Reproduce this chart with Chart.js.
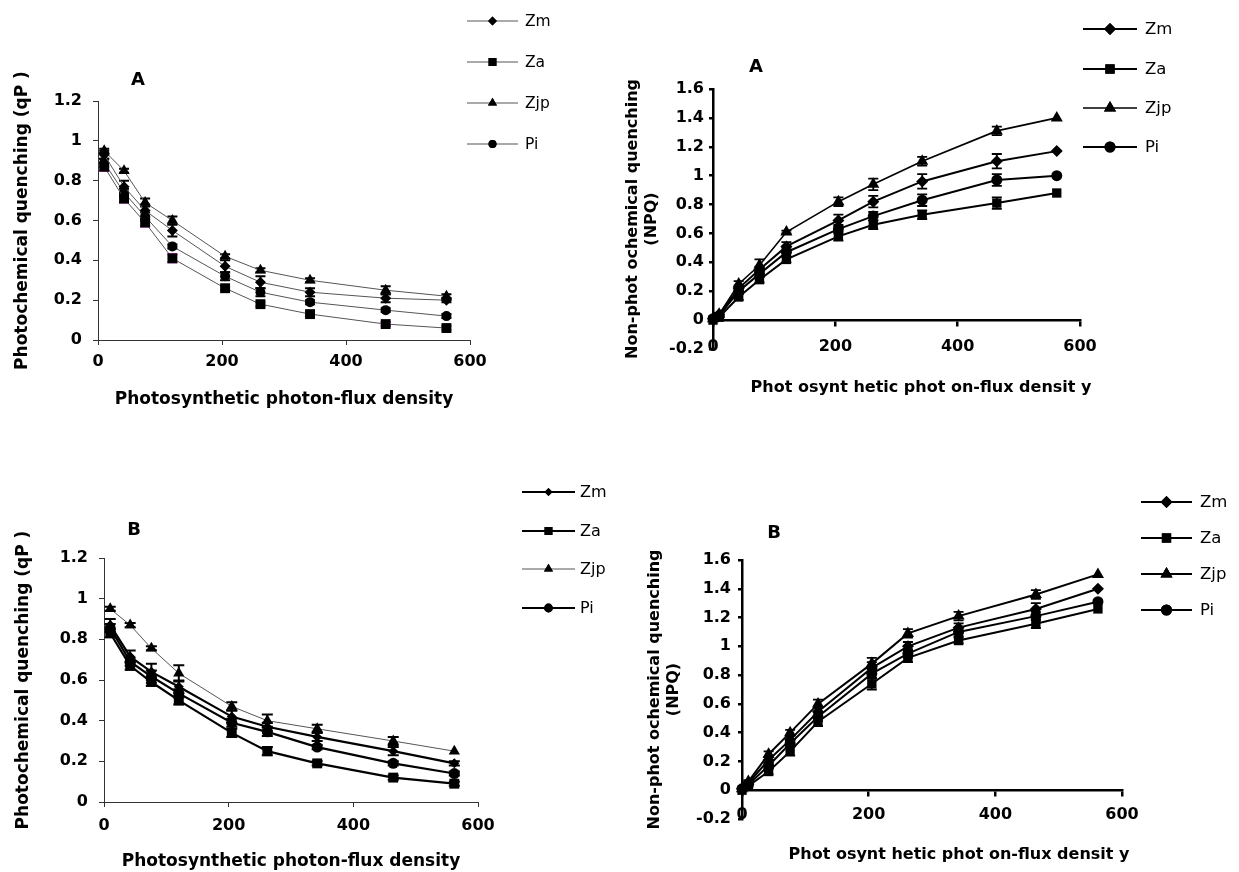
<!DOCTYPE html>
<html>
<head>
<meta charset="utf-8">
<title>qP and NPQ response curves</title>
<script src="https://cdn.jsdelivr.net/npm/chart.js"></script>
<style>
  html, body { margin: 0; padding: 0; background: #fff; }
  body { width: 1239px; height: 872px; position: relative; overflow: hidden; }
  canvas { position: absolute; }
</style>
</head>
<body>
<canvas id="qpChartA" width="560" height="436" style="left:0;top:0"></canvas>
<canvas id="npqChartA" width="679" height="436" style="left:560px;top:0"></canvas>
<canvas id="qpChartB" width="620" height="436" style="left:0;top:436px"></canvas>
<canvas id="npqChartB" width="619" height="436" style="left:620px;top:436px"></canvas>
<script>
// ---- data ----
const speciesNames = ["Zm", "Za", "Zjp", "Pi"];
const ppfdQP = [10, 42, 76, 120, 205, 262, 342, 464, 562];
const ppfdNPQ = [0, 10, 42, 76, 120, 205, 262, 342, 464, 562];
const xTickValues = [0, 200, 400, 600];
const qpTickValues = [0, 0.2, 0.4, 0.6, 0.8, 1, 1.2];
const npqTickValues = [-0.2, 0, 0.2, 0.4, 0.6, 0.8, 1, 1.2, 1.4, 1.6];

// panel A, photochemical quenching (qP)
const qpA_Zm  = [0.93, 0.77, 0.65, 0.55, 0.37, 0.29, 0.24, 0.21, 0.20];
const qpA_Za  = [0.87, 0.71, 0.59, 0.41, 0.26, 0.18, 0.13, 0.08, 0.06];
const qpA_Zjp = [0.95, 0.85, 0.69, 0.60, 0.42, 0.35, 0.30, 0.25, 0.22];
const qpA_Pi  = [0.89, 0.74, 0.62, 0.47, 0.32, 0.24, 0.19, 0.15, 0.12];
const qpA_errZm  = [0.02, 0.03, 0.03, 0.03, 0.03, 0.03, 0.02, 0.02, 0.01];
const qpA_errZa  = [0.02, 0.02, 0.02, 0.02, 0.01, 0.01, 0.01, 0.01, 0.01];
const qpA_errZjp = [0.01, 0.01, 0.02, 0.02, 0.01, 0.01, 0.01, 0.02, 0.01];
const qpA_errPi  = [0.02, 0.02, 0.02, 0.01, 0.02, 0.02, 0.01, 0.01, 0.01];

// panel A, non-photochemical quenching (NPQ)
const npqA_Zm  = [0.01, 0.04, 0.22, 0.35, 0.51, 0.69, 0.82, 0.96, 1.10, 1.17];
const npqA_Za  = [0.00, 0.02, 0.16, 0.28, 0.42, 0.58, 0.66, 0.73, 0.81, 0.88];
const npqA_Zjp = [0.01, 0.04, 0.25, 0.38, 0.61, 0.82, 0.94, 1.10, 1.31, 1.40];
const npqA_Pi  = [0.01, 0.03, 0.20, 0.32, 0.47, 0.63, 0.72, 0.83, 0.97, 1.00];
const npqA_errZm  = [0, 0.01, 0.02, 0.02, 0.03, 0.04, 0.04, 0.05, 0.05, 0];
const npqA_errZa  = [0, 0.01, 0.02, 0.02, 0.02, 0.03, 0.03, 0.03, 0.04, 0];
const npqA_errZjp = [0, 0.01, 0.02, 0.04, 0.01, 0.03, 0.04, 0.03, 0.03, 0];
const npqA_errPi  = [0, 0.01, 0.02, 0.02, 0.03, 0.03, 0.03, 0.04, 0.04, 0];

// panel B, photochemical quenching (qP)
const qpB_Zm  = [0.87, 0.715, 0.64, 0.567, 0.42, 0.37, 0.32, 0.25, 0.19];
const qpB_Za  = [0.83, 0.67, 0.59, 0.50, 0.34, 0.25, 0.19, 0.12, 0.09];
const qpB_Zjp = [0.95, 0.87, 0.756, 0.633, 0.47, 0.40, 0.36, 0.30, 0.25];
const qpB_Pi  = [0.855, 0.69, 0.617, 0.534, 0.39, 0.345, 0.27, 0.19, 0.14];
const qpB_errZm  = [0.03, 0.03, 0.04, 0.03, 0.03, 0.02, 0.02, 0.02, 0.01];
const qpB_errZa  = [0.02, 0.02, 0.02, 0.02, 0.02, 0.02, 0.01, 0.01, 0.01];
const qpB_errZjp = [0.01, 0.01, 0.01, 0.04, 0.02, 0.03, 0.02, 0.02, 0];
const qpB_errPi  = [0.02, 0.02, 0.03, 0.02, 0.02, 0.02, 0.01, 0.01, 0.01];

// panel B, non-photochemical quenching (NPQ)
const npqB_Zm  = [0.01, 0.05, 0.21, 0.35, 0.545, 0.85, 1.00, 1.13, 1.26, 1.40];
const npqB_Za  = [0.00, 0.03, 0.13, 0.27, 0.476, 0.74, 0.92, 1.04, 1.157, 1.26];
const npqB_Zjp = [0.01, 0.06, 0.25, 0.40, 0.60, 0.88, 1.09, 1.21, 1.36, 1.50];
const npqB_Pi  = [0.01, 0.04, 0.17, 0.325, 0.51, 0.81, 0.95, 1.10, 1.21, 1.31];
const npqB_errZm  = [0, 0.01, 0.02, 0.03, 0.03, 0.04, 0.03, 0.03, 0.04, 0];
const npqB_errZa  = [0, 0.01, 0.02, 0.03, 0.03, 0.04, 0.03, 0.02, 0.03, 0];
const npqB_errZjp = [0, 0.01, 0.02, 0.02, 0.03, 0.04, 0.03, 0.03, 0.03, 0];
const npqB_errPi  = [0, 0.01, 0.02, 0.02, 0.03, 0.03, 0.03, 0.03, 0.03, 0.01];

const pointStyles = ["rectRot", "rect", "triangle", "circle"];

// error bars drawn under the lines, from the chart's own scales
const errorBarPlugin = {
  id: "errorBars",
  beforeDatasetsDraw(chart, args, opts) {
    const { ctx, scales: { x, y } } = chart;
    const hw = (opts.cap || 8) / 2;
    ctx.save();
    ctx.lineWidth = opts.width || 1.5;
    chart.data.datasets.forEach(ds => {
      if (!ds.errors) return;
      ctx.strokeStyle = ds.errorColor || "#000";
      ds.data.forEach((p, j) => {
        const e = ds.errors[j];
        if (!e) return;
        const px = x.getPixelForValue(p.x);
        const top = y.getPixelForValue(p.y + e);
        const bot = y.getPixelForValue(p.y - e);
        ctx.beginPath();
        ctx.moveTo(px, top); ctx.lineTo(px, bot);
        ctx.moveTo(px - hw, top); ctx.lineTo(px + hw, top);
        ctx.moveTo(px - hw, bot); ctx.lineTo(px + hw, bot);
        ctx.stroke();
      });
    });
    ctx.restore();
  }
};

function drawMarker(ctx, style, radius, x, y) {
  if (Chart.helpers && Chart.helpers.drawPoint) {
    Chart.helpers.drawPoint(ctx, { pointStyle: style, radius, rotation: 0, borderWidth: 0 }, x, y);
    ctx.fill();
    return;
  }
  ctx.beginPath();
  if (style === "rect") {
    const s = radius * Math.SQRT1_2;
    ctx.rect(x - s, y - s, 2 * s, 2 * s);
  } else if (style === "rectRot") {
    ctx.moveTo(x, y - radius); ctx.lineTo(x + radius, y); ctx.lineTo(x, y + radius); ctx.lineTo(x - radius, y);
    ctx.closePath();
  } else if (style === "triangle") {
    ctx.moveTo(x, y - radius);
    ctx.lineTo(x + radius * 0.866, y + radius / 2);
    ctx.lineTo(x - radius * 0.866, y + radius / 2);
    ctx.closePath();
  } else {
    ctx.arc(x, y, radius, 0, Math.PI * 2);
  }
  ctx.fill();
}

// panel letter, side legend and (for NPQ) the free-standing x title
const panelDecorPlugin = {
  id: "panelDecor",
  afterDraw(chart, args, opts) {
    const ctx = chart.ctx;
    ctx.save();
    ctx.fillStyle = "#000";
    ctx.textBaseline = "middle";
    if (opts.letter) {
      ctx.font = "bold 18px 'DejaVu Sans'";
      ctx.textAlign = "center";
      ctx.fillText(opts.letter, opts.letterX, opts.letterY);
    }
    if (opts.xTitle) {
      ctx.font = opts.xTitleFont;
      ctx.textAlign = "center";
      ctx.fillText(opts.xTitle, opts.xTitleX, opts.xTitleY);
    }
    const lg = opts.legend;
    if (lg) {
      chart.data.datasets.forEach((ds, i) => {
        const y = lg.rows[i];
        ctx.strokeStyle = ds.borderColor;
        ctx.lineWidth = ds.borderWidth;
        ctx.beginPath();
        ctx.moveTo(lg.x1, y);
        ctx.lineTo(lg.x2, y);
        ctx.stroke();
        ctx.fillStyle = "#000";
        drawMarker(ctx, ds.pointStyle, ds.pointRadius * lg.markerScale, (lg.x1 + lg.x2) / 2, y);
        ctx.font = lg.font;
        ctx.textAlign = "left";
        ctx.fillText(ds.label, lg.labelX, y + 1);
      });
    }
    ctx.restore();
  }
};

function buildDatasets(xs, series, errs, look) {
  return speciesNames.map((name, i) => ({
    label: name,
    data: xs.map((x, j) => ({ x, y: series[i][j] })),
    errors: errs[i],
    errorColor: look.errorColors ? look.errorColors[i] : "#000",
    pointStyle: pointStyles[i],
    pointRadius: look.radius[i],
    pointBackgroundColor: "#000",
    pointBorderColor: "#000",
    pointBorderWidth: 0,
    borderColor: look.lineColor[i],
    borderWidth: look.lineWidth[i],
    tension: 0,
    fill: false,
    clip: false
  }));
}

const fmt = v => String(Math.round(v * 10) / 10);

function makeChart(id, cfg) {
  const el = document.getElementById(id);
  if (!el) return console.error(id + " canvas not found");
  const axisColor = cfg.axisColor;
  const xScale = {
    type: "linear",
    min: 0,
    max: 600,
    position: cfg.xAtZero ? { y: 0 } : "bottom",
    afterBuildTicks: s => { s.ticks = xTickValues.map(v => ({ value: v })); },
    grid: { drawOnChartArea: false, drawTicks: true, tickLength: 5, color: axisColor, lineWidth: cfg.axisWidth },
    border: { display: true, color: axisColor, width: cfg.axisWidth },
    ticks: { color: "#000", font: cfg.tickFont, padding: cfg.xTickPad, maxRotation: 0, callback: fmt }
  };
  if (cfg.xHeight) xScale.afterFit = s => { s.height = cfg.xHeight; };
  if (cfg.xTitle) {
    xScale.title = { display: true, text: cfg.xTitle, color: "#000", font: cfg.titleFont, padding: { top: 0, bottom: cfg.xTitlePad } };
  }
  const yScale = {
    type: "linear",
    min: cfg.yTicks[0],
    max: cfg.yTicks[cfg.yTicks.length - 1],
    afterBuildTicks: s => { s.ticks = cfg.yTicks.map(v => ({ value: v })); },
    afterFit: s => { s.width = cfg.yWidth; },
    grid: { drawOnChartArea: false, drawTicks: true, tickLength: cfg.yTickLen, color: axisColor, lineWidth: cfg.axisWidth },
    border: { display: true, color: axisColor, width: cfg.axisWidth },
    ticks: { color: "#000", font: cfg.tickFont, padding: cfg.yTickPad, callback: fmt },
    title: { display: true, text: cfg.yTitle, color: "#000", font: cfg.yTitleFont || cfg.titleFont, padding: { top: cfg.yTitlePad, bottom: 0 } }
  };
  return new Chart(el.getContext("2d"), {
    type: "line",
    data: { datasets: cfg.datasets },
    options: {
      responsive: false,
      animation: false,
      events: [],
      layout: { padding: cfg.padding },
      scales: { x: xScale, y: yScale },
      plugins: {
        legend: { display: false },
        tooltip: { enabled: false },
        errorBars: cfg.errorBars,
        panelDecor: cfg.decor
      }
    },
    plugins: [errorBarPlugin, panelDecorPlugin]
  });
}

const qpTickFont = { family: "'DejaVu Sans'", size: 16, weight: "bold", lineHeight: 1.2 };
const qpTitleFont = { family: "'DejaVu Sans'", size: 17, weight: "bold", lineHeight: 1.2 };
const npqTickFont = { family: "'DejaVu Sans'", size: 16, weight: "bold", lineHeight: 1.2 };
const npqTitleFont = { family: "'DejaVu Sans'", size: 16, weight: "bold", lineHeight: 1.15 };
const qpYTitle = "Photochemical quenching (qP )";
const qpXTitle = "Photosynthetic photon-flux density";
const npqYTitle = ["Non-phot ochemical quenching", "(NPQ)"];
const npqXTitle = "Phot osynt hetic phot on-flux densit y";

function initCharts() {
  makeChart("qpChartA", {
    datasets: buildDatasets(ppfdQP, [qpA_Zm, qpA_Za, qpA_Zjp, qpA_Pi], [qpA_errZm, qpA_errZa, qpA_errZjp, qpA_errPi], {
      radius: [5.5, 7, 6.5, 5],
      lineColor: ["#555", "#555", "#555", "#555"],
      lineWidth: [1, 1, 1, 1],
      errorColors: ["#000", "#e000e0", "#000", "#000"]
    }),
    yTicks: qpTickValues,
    axisColor: "#333", axisWidth: 1,
    tickFont: qpTickFont, titleFont: qpTitleFont,
    padding: { left: 0, top: 101, right: 90, bottom: 0 },
    yWidth: 98, yTickLen: 5, yTickPad: 11, yTitle: qpYTitle, yTitlePad: 12,
    xHeight: 96, xTickPad: 7, xTitle: qpXTitle, xTitlePad: 26,
    errorBars: { cap: 10, width: 2 },
    decor: {
      letter: "A", letterX: 138, letterY: 80,
      legend: { x1: 467, x2: 518, labelX: 525, rows: [21, 62, 103, 144], markerScale: 0.8, font: "15.5px 'DejaVu Sans'" }
    }
  });

  makeChart("npqChartA", {
    datasets: buildDatasets(ppfdNPQ, [npqA_Zm, npqA_Za, npqA_Zjp, npqA_Pi], [npqA_errZm, npqA_errZa, npqA_errZjp, npqA_errPi], {
      radius: [6, 6.6, 7, 5.5],
      lineColor: ["#000", "#000", "#000", "#000"],
      lineWidth: [2, 2, 1.6, 2]
    }),
    yTicks: npqTickValues, xAtZero: true,
    axisColor: "#000", axisWidth: 2.5,
    tickFont: npqTickFont, titleFont: npqTitleFont,
    padding: { left: 0, top: 89, right: 159, bottom: 87 },
    yWidth: 153, yTickLen: 4, yTickPad: 5, yTitle: npqYTitle, yTitlePad: 64,
    xTickPad: 12,
    errorBars: { cap: 10, width: 1.8 },
    decor: {
      letter: "A", letterX: 196, letterY: 67,
      xTitle: npqXTitle, xTitleX: 361, xTitleY: 388, xTitleFont: "bold 16px 'DejaVu Sans'",
      legend: { x1: 523, x2: 577, labelX: 585, rows: [29, 69, 108, 147], markerScale: 1, font: "16.5px 'DejaVu Sans'" }
    }
  });

  makeChart("qpChartB", {
    datasets: buildDatasets(ppfdQP, [qpB_Zm, qpB_Za, qpB_Zjp, qpB_Pi], [qpB_errZm, qpB_errZa, qpB_errZjp, qpB_errPi], {
      radius: [5, 7, 6.5, 5.5],
      lineColor: ["#000", "#000", "#555", "#000"],
      lineWidth: [2.2, 2.2, 1, 2.2]
    }),
    yTicks: qpTickValues,
    axisColor: "#333", axisWidth: 1,
    tickFont: qpTickFont, titleFont: qpTitleFont,
    padding: { left: 0, top: 122, right: 142, bottom: 0 },
    yWidth: 104, yTickLen: 5, yTickPad: 11, yTitle: qpYTitle, yTitlePad: 13,
    xHeight: 70, xTickPad: 9, xTitle: qpXTitle, xTitlePad: 0,
    errorBars: { cap: 11, width: 2 },
    decor: {
      letter: "B", letterX: 134, letterY: 94,
      legend: { x1: 522, x2: 575, labelX: 580, rows: [56, 95, 133, 172], markerScale: 0.8, font: "16px 'DejaVu Sans'" }
    }
  });

  makeChart("npqChartB", {
    datasets: buildDatasets(ppfdNPQ, [npqB_Zm, npqB_Za, npqB_Zjp, npqB_Pi], [npqB_errZm, npqB_errZa, npqB_errZjp, npqB_errPi], {
      radius: [6, 6.6, 7, 5.5],
      lineColor: ["#000", "#000", "#000", "#000"],
      lineWidth: [2, 2, 2, 2]
    }),
    yTicks: npqTickValues, xAtZero: true,
    axisColor: "#000", axisWidth: 2.5,
    tickFont: npqTickFont, titleFont: npqTitleFont,
    padding: { left: 0, top: 124, right: 117, bottom: 53 },
    yWidth: 122, yTickLen: 4, yTickPad: 7, yTitle: npqYTitle, yTitlePad: 26,
    xTickPad: 10,
    errorBars: { cap: 10, width: 1.8 },
    decor: {
      letter: "B", letterX: 154, letterY: 97,
      xTitle: npqXTitle, xTitleX: 339, xTitleY: 419, xTitleFont: "bold 16px 'DejaVu Sans'",
      legend: { x1: 521, x2: 572, labelX: 580, rows: [66, 102, 138, 174], markerScale: 1, font: "16.5px 'DejaVu Sans'" }
    }
  });
}

document.addEventListener("DOMContentLoaded", initCharts);
</script>
</body>
</html>
